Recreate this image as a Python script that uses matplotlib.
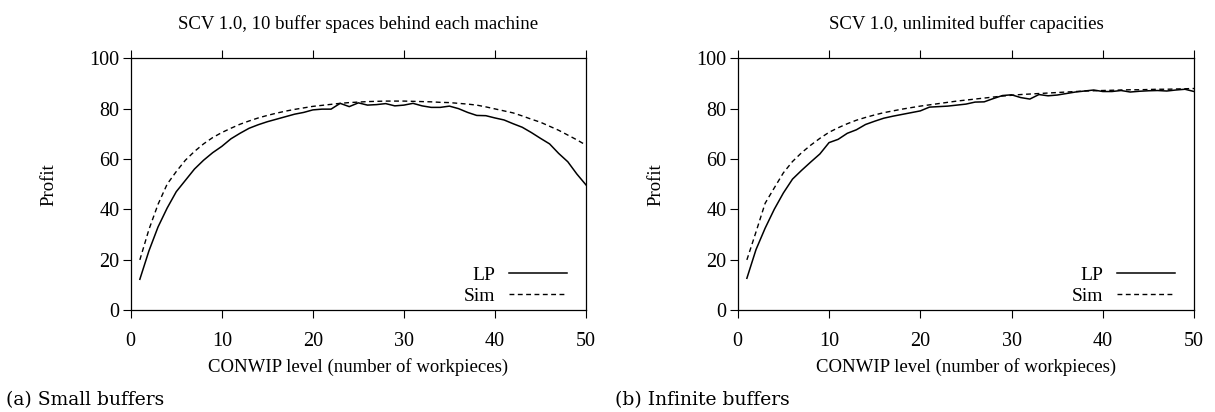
import matplotlib
matplotlib.use("Agg")
import matplotlib.pyplot as plt
import numpy as np

# Data
#---------------------------
conwip = list(range(1, 51))

lp_small = [12.2, 23.5, 33.0, 40.5, 47.0, 51.5, 56.0, 59.5, 62.5, 65.0,
            68.0, 70.2, 72.2, 73.6, 74.8, 75.8, 76.8, 77.8, 78.5, 79.5,
            79.8, 79.8, 82.1, 80.8, 82.3, 81.4, 81.6, 82.0, 81.1, 81.4,
            82.1, 81.1, 80.5, 80.5, 81.0, 80.0, 78.5, 77.3, 77.2, 76.3,
            75.5, 74.0, 72.6, 70.5, 68.2, 66.0, 62.2, 58.9, 54.0, 49.7]
sim_small = [19.9, 32.0, 42.0, 50.0, 55.0, 59.5, 63.0, 66.0, 68.5, 70.5,
             72.2, 73.8, 75.1, 76.3, 77.3, 78.2, 79.0, 79.7, 80.3, 80.9,
             81.3, 81.7, 82.1, 82.4, 82.6, 82.8, 82.9, 83.0, 83.0, 83.0,
             82.9, 82.8, 82.7, 82.5, 82.4, 82.1, 81.8, 81.4, 80.7, 79.9,
             79.1, 78.3, 77.1, 75.8, 74.6, 73.0, 71.4, 69.5, 67.6, 65.5]

lp_inf = [12.6, 24.0, 32.5, 40.0, 46.5, 52.0, 55.5, 58.8, 62.0, 66.5,
          67.8, 70.2, 71.6, 73.7, 75.0, 76.2, 77.0, 77.7, 78.4, 79.1,
          80.6, 80.8, 81.0, 81.4, 81.8, 82.6, 82.7, 84.0, 85.2, 85.5,
          84.4, 83.8, 85.6, 85.1, 85.4, 86.0, 86.6, 87.0, 87.4, 86.8,
          86.8, 87.2, 86.6, 86.9, 87.1, 87.2, 87.0, 87.4, 87.7, 86.8]
sim_inf = [19.9, 31.0, 42.4, 48.5, 54.5, 59.0, 62.5, 65.5, 68.2, 70.6,
           72.4, 74.0, 75.4, 76.5, 77.5, 78.4, 79.1, 79.8, 80.4, 81.0,
           81.5, 82.0, 82.5, 83.0, 83.4, 83.8, 84.2, 84.6, 85.0, 85.3,
           85.6, 85.8, 86.0, 86.2, 86.4, 86.6, 86.8, 87.0, 87.1, 87.2,
           87.3, 87.4, 87.5, 87.5, 87.6, 87.7, 87.7, 87.8, 87.9, 88.0]

titles = ["SCV 1.0, 10 buffer spaces behind each machine",
          "SCV 1.0, unlimited buffer capacities"]
captions = ["(a) Small buffers", "(b) Infinite buffers"]
xlabel = "CONWIP level (number of workpieces)"
ylabel = "Profit"

plt.rcParams['font.family'] = ['Liberation Serif', 'DejaVu Serif']
plt.rcParams['font.size'] = 13

fig = plt.figure(figsize=(12.15, 4.12), dpi=100)
positions = [[0.1076, 0.2476, 0.3747, 0.6109],
             [0.6072, 0.2476, 0.3756, 0.6109]]
series = [(lp_small, sim_small), (lp_inf, sim_inf)]

for pos, (lp, sim), title in zip(positions, series, titles):
    ax = fig.add_axes(pos)
    ax.plot(conwip, lp, color='black', lw=1.1, label='LP')
    ax.plot(conwip, sim, color='black', lw=1.0, dashes=(3.5, 2.5), label='Sim')
    ax.set_xlim(0, 50)
    ax.set_ylim(0, 100)
    ax.set_xticks(range(0, 51, 10))
    ax.set_yticks(range(0, 101, 20))
    ax.tick_params(direction='out', length=6, width=0.8, top=True, right=False,
                   labeltop=False, labelsize=14.5)
    ax.tick_params(axis='x', pad=10)
    ax.tick_params(axis='y', pad=2)
    for sp in ax.spines.values():
        sp.set_linewidth(0.9)
    ax.set_title(title, fontsize=13.5, pad=21)
    ax.set_xlabel(xlabel, fontsize=13.5, labelpad=5)
    ax.set_ylabel(ylabel, fontsize=13.5, labelpad=23)
    ax.legend(loc='lower right', bbox_to_anchor=(0.975, -0.01), frameon=False,
              markerfirst=False, handlelength=3.0, handletextpad=0.7,
              labelspacing=0.15, borderaxespad=0, fontsize=14)

fig.text(0.005, 0.028, captions[0], fontsize=13.5, family='DejaVu Serif', va='center')
fig.text(0.506, 0.028, captions[1], fontsize=13.5, family='DejaVu Serif', va='center')

fig.savefig("out.png", dpi=100)
